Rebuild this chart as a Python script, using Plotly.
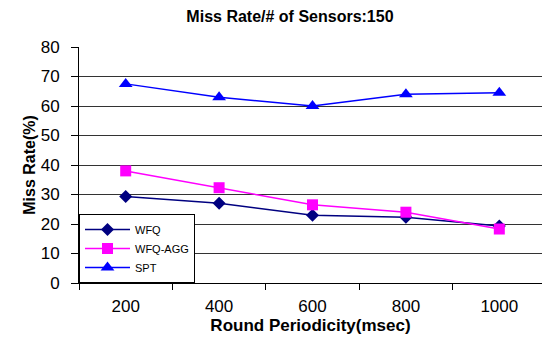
import plotly.graph_objects as go

categories = ["200", "400", "600", "800", "1000"]
wfq = [29.3, 27.0, 23.0, 22.3, 19.3]
wfq_agg = [38.0, 32.3, 26.5, 24.0, 18.3]
spt = [67.5, 63.0, 60.0, 64.0, 64.5]
y_ticks = [0, 10, 20, 30, 40, 50, 60, 70, 80]

FONT = "Arial, Liberation Sans, sans-serif"

fig = go.Figure()
fig.add_trace(go.Scatter(x=categories, y=wfq, name="WFQ", mode="lines+markers",
                         line=dict(color="#000080", width=1.5),
                         marker=dict(symbol="diamond", size=10, color="#000080")))
fig.add_trace(go.Scatter(x=categories, y=wfq_agg, name="WFQ-AGG", mode="lines+markers",
                         line=dict(color="#FF00FF", width=1.5),
                         marker=dict(symbol="square", size=11, color="#FF00FF")))
fig.add_trace(go.Scatter(x=categories, y=spt, name="SPT", mode="lines+markers",
                         line=dict(color="#0000FF", width=1.5),
                         marker=dict(symbol="triangle-up", size=12, color="#0000FF")))

fig.update_layout(
    width=542, height=343,
    margin=dict(l=79, r=0, t=47, b=60),
    paper_bgcolor="white", plot_bgcolor="white",
    font=dict(family=FONT, color="black"),
    title=dict(text="<b>Miss Rate/# of Sensors:150</b>", x=0.535, xanchor="center",
               y=0.953, yanchor="middle", font=dict(size=16, family=FONT)),
    showlegend=True,
    legend=dict(x=0, y=0, xanchor="left", yanchor="bottom",
                bgcolor="white", bordercolor="black", borderwidth=1,
                font=dict(size=11, family=FONT), itemwidth=45),
)
fig.update_xaxes(
    type="category", range=[-0.5, 4.457],
    tickson="boundaries", ticks="outside", ticklen=6, tickcolor="black",
    showline=True, linecolor="black", linewidth=1,
    showgrid=False, zeroline=False,
    tickfont=dict(size=17, family=FONT), ticklabelstandoff=8,
    title=dict(text="<b>Round Periodicity(msec)</b>", font=dict(size=17, family=FONT), standoff=1),
)
fig.update_yaxes(
    range=[0, 80], tickvals=y_ticks,
    ticks="outside", ticklen=7, tickcolor="black",
    showline=True, linecolor="black", linewidth=1,
    showgrid=True, gridcolor="#333333", gridwidth=1, zeroline=False,
    tickfont=dict(size=17, family=FONT), ticklabelstandoff=8,
    title=dict(text="<b>Miss Rate(%)</b>", font=dict(size=16, family=FONT), standoff=1),
)

fig.write_html("out.html")
